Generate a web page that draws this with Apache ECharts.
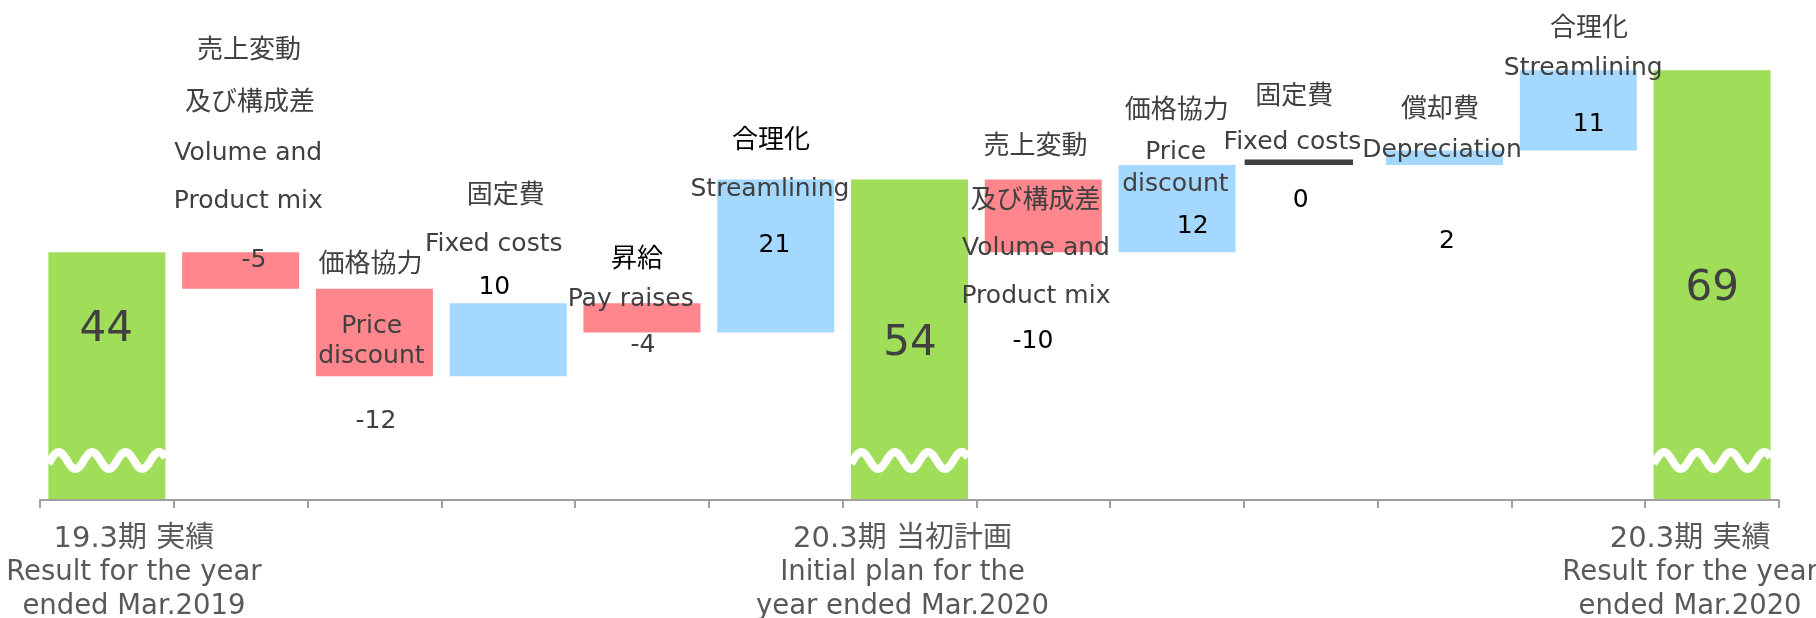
<!DOCTYPE html>
<html>
<head>
<meta charset="utf-8">
<script src="https://cdn.jsdelivr.net/npm/echarts@6/dist/echarts.min.js"></script>
<style>
html,body{margin:0;padding:0;background:#fff;}
#chart{width:1816px;height:618px;}
</style>
</head>
<body>
<div id="chart"></div>
<script>
// ---------- data ----------
const categories = [
  '19.3期 実績\nResult for the year\nended Mar.2019',
  '売上変動\n及び構成差\nVolume and\nProduct mix',
  '価格協力\nPrice\ndiscount',
  '固定費\nFixed costs',
  '昇給\nPay raises',
  '合理化\nStreamlining',
  '20.3期 当初計画\nInitial plan for the\nyear ended Mar.2020',
  '売上変動\n及び構成差\nVolume and\nProduct mix',
  '価格協力\nPrice\ndiscount',
  '固定費\nFixed costs',
  '償却費\nDepreciation',
  '合理化\nStreamlining',
  '20.3期 実績\nResult for the year\nended Mar.2020'
];
const changes = [44, -5, -12, 10, -4, 21, 54, -10, 12, 0, 2, 11, 69];
const isTotal = [true, false, false, false, false, false, true, false, false, false, false, false, true];
const axisMin = 10;
const axisMax = 70;

// ---------- styles / layout (pixels, relative to category centre and bar top) ----------
const FONT = '"DejaVu Sans", "Noto Sans CJK JP", sans-serif';
const DARK = '#404040';
const BLACK = '#000000';
const GREEN = '#a0dd58';
const RED = '#ff868c';
const BLUE = '#a5d8ff';
const nameLayout = {
  1: [[8.3, -204.9], [9.3, -152.4], [7.6, -102.4], [7.6, -54.1]],
  2: [[-3.8, -26.8], [-2.8, 34.5], [-3, 64.5]],
  3: [[-2.4, -110.9], [-14.5, -62.6]],
  4: [[-5, -46.7], [-11.3, -7.6]],
  5: [[-4.8, -42], [-5.8, 6]],
  7: [[-7.8, -35.5], [-7.8, 18], [-7.3, 65.5], [-7.3, 113.8]],
  8: [[-0.3, -57.5], [-1.4, -16], [-1.6, 16]],
  9: [[-16.6, -71], [-18.4, -25.8]],
  10: [[-4.6, -43.7], [-2.6, -3.4]],
  11: [[10.6, -44.3], [4.9, -5.3]]
};
const nameColor = {
  1: [DARK, DARK, DARK, DARK], 2: [DARK, DARK, DARK], 3: [DARK, DARK], 4: [BLACK, DARK],
  5: [BLACK, DARK], 7: [DARK, DARK, DARK, DARK], 8: [DARK, DARK, DARK], 9: [DARK, DARK],
  10: [DARK, DARK], 11: [DARK, DARK]
};
const valueLayout = [[-0.6, 71.6], [13.3, 4.6], [1.5, 129.5], [-13.9, -19.2], [1, 39.1], [-1.3, 62.2],
  [0.5, 158.8], [-10.3, 158.5], [15.6, 58], [-10.2, 31.7], [2.4, 87.1], [10.3, 50.7], [0.1, 212.7]];
const valueColor = [DARK, DARK, DARK, BLACK, DARK, BLACK, DARK, BLACK, BLACK, BLACK, BLACK, BLACK, DARK];
const axisLabelShift = {0: 27, 6: -7, 12: -22};
const BAR_RATIO = 0.875;
const ZERO_RATIO = 0.81, ZERO_SHIFT = -12, ZERO_THICK = 5.5;

// ---------- waterfall construction ----------
const baseVals = [], totalVals = [], upVals = [], downVals = [], tops = [];
const zeroMarks = [];
let running = 0;
changes.forEach((v, i) => {
  if (isTotal[i]) {
    running = v;
    baseVals.push('-'); totalVals.push(v); upVals.push('-'); downVals.push('-');
    tops.push(v);
  } else {
    const start = running, end = running + v;
    running = end;
    baseVals.push(Math.min(start, end));
    totalVals.push('-');
    upVals.push(v > 0 ? v : '-');
    downVals.push(v < 0 ? -v : '-');
    if (v === 0) zeroMarks.push([i, end]);
    tops.push(Math.max(start, end));
  }
});

function makeText(text, x, y, size, color) {
  return {
    type: 'text', x: x, y: y + size * 0.14,
    style: {text: text, fill: color, fontSize: size, fontFamily: FONT, align: 'center', verticalAlign: 'middle'}
  };
}

const rich = {};
Object.keys(axisLabelShift).forEach(k => {
  const s = axisLabelShift[k];
  const pad = s > 0 ? [0, 0, 0, 2 * s] : [0, -2 * s, 0, 0];
  rich['t' + k] = {fontSize: 27.5, lineHeight: 34, color: '#595959', fontFamily: FONT, padding: pad};
  rich['j' + k] = {fontSize: 29, lineHeight: 34, color: '#595959', fontFamily: FONT, padding: pad};
});

const chart = echarts.init(document.getElementById('chart'), null, {renderer: 'canvas'});
const barCommon = {type: 'bar', stack: 'w', barWidth: (BAR_RATIO * 100) + '%', silent: true};

chart.setOption({
  animation: false,
  grid: {left: 40, right: 37, top: 63, bottom: 118, containLabel: false, outerBoundsMode: 'none'},
  xAxis: {
    type: 'category',
    data: categories,
    z: 4,
    axisLine: {lineStyle: {color: '#a0a0a0', width: 2}},
    axisTick: {show: true, length: 8, lineStyle: {color: '#a0a0a0', width: 2}},
    axisLabel: {
      interval: 0, margin: 22, fontSize: 27.5, lineHeight: 34, color: '#595959', fontFamily: FONT,
      formatter: (v, i) => isTotal[i]
        ? v.split('\n').map((s, k) => '{' + (k === 0 ? 'j' : 't') + i + '|' + s + '}').join('\n')
        : '',
      rich: rich
    },
    splitLine: {show: false}
  },
  yAxis: {
    type: 'value', min: axisMin, max: axisMax, show: false, splitLine: {show: false}
  },
  series: [
    Object.assign({}, barCommon, {name: 'base', data: baseVals, itemStyle: {color: 'rgba(0,0,0,0)'}}),
    Object.assign({}, barCommon, {name: 'total', data: totalVals, itemStyle: {color: GREEN}}),
    Object.assign({}, barCommon, {name: 'down', data: downVals, itemStyle: {color: RED}}),
    Object.assign({}, barCommon, {name: 'up', data: upVals, itemStyle: {color: BLUE}}),
    {
      type: 'custom', name: 'zero', silent: true, z: 3,
      data: zeroMarks,
      renderItem: (params, api) => {
        const p = api.coord([api.value(0), api.value(1)]);
        const w = api.size([1, 0])[0] * ZERO_RATIO;
        return {type: 'rect', shape: {x: p[0] - w / 2 + ZERO_SHIFT, y: p[1] - ZERO_THICK, width: w, height: ZERO_THICK},
          style: {fill: DARK}};
      }
    },
    {
      type: 'custom', name: 'break', silent: true, z: 5, clip: false,
      data: changes.map((v, i) => [i, v]).filter((d, i) => isTotal[i]),
      renderItem: (params, api) => {
        const i = api.value(0);
        const p = api.coord([i, axisMin]);
        const w = api.size([1, 0])[0] * BAR_RATIO;
        const pts = [];
        const N = 90, periods = 3.5, amp = 8.5, lift = 39.5, phase = 1.2;
        for (let k = 0; k <= N; k++) {
          const t = k / N;
          pts.push([p[0] - w / 2 + w * t, p[1] - lift + amp * Math.cos(phase + 2 * Math.PI * periods * t)]);
        }
        return {type: 'polyline', shape: {points: pts}, style: {stroke: '#ffffff', lineWidth: 8, fill: null}};
      }
    },
    {
      type: 'custom', name: 'labels', silent: true, z: 10, clip: false,
      data: tops.map((t, i) => [i, t]),
      renderItem: (params, api) => {
        const i = params.dataIndex;
        const p = api.coord([i, tops[i]]);
        const children = [];
        if (!isTotal[i]) {
          categories[i].split('\n').forEach((s, k) => {
            const off = nameLayout[i][k];
            const cjk = /[\u3000-\u9fff]/.test(s);
            children.push(makeText(s, p[0] + off[0], p[1] + off[1], cjk ? 26 : 25, nameColor[i][k]));
          });
        }
        const vo = valueLayout[i];
        children.push(makeText(String(changes[i]), p[0] + vo[0], p[1] + vo[1], isTotal[i] ? 42 : 25, valueColor[i]));
        return {type: 'group', children: children};
      }
    }
  ]
});
</script>
</body>
</html>
